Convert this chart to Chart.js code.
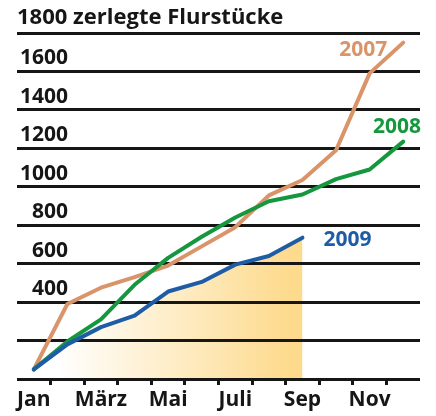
<!DOCTYPE html>
<html>
<head>
<meta charset="utf-8">
<script src="https://cdn.jsdelivr.net/npm/chart.js@4"></script>
<style>
  html, body { margin: 0; padding: 0; background: #fff; }
  #wrap { width: 436px; height: 416px; }
</style>
</head>
<body>
<div id="wrap"><canvas id="chart"></canvas></div>
<script>
// data
const months = ["Jan", "Feb", "März", "Apr", "Mai", "Jun", "Juli", "Aug", "Sep", "Okt", "Nov", "Dez"];
const values2007 = [50, 390, 475, 530, 590, 690, 790, 955, 1035, 1190, 1590, 1750];
const values2008 = [50, 195, 310, 490, 630, 740, 840, 925, 960, 1040, 1090, 1235];
const values2009 = [50, 180, 270, 330, 455, 505, 595, 640, 735];
const yTicks = [400, 600, 800, 1000, 1200, 1400, 1600];
const yTitle = "1800 zerlegte Flurstücke";

const FONT = "'Open Sans', sans-serif";
const ink = "#161616";

// y labels sit above their grid line, right aligned
const yLabelPlugin = {
    id: "yLabels",
    afterDraw(chart) {
        const ctx = chart.ctx;
        const y = chart.scales.y;
        const left = chart.chartArea.left;
        ctx.save();
        ctx.font = "bold 21px " + FONT;
        ctx.fillStyle = ink;
        ctx.textBaseline = "middle";
        ctx.textAlign = "right";
        yTicks.forEach(function (v) {
            ctx.fillText(String(v), left + 51, y.getPixelForValue(v) - 13);
        });
        ctx.font = "bold 22px " + FONT;
        ctx.textAlign = "left";
        ctx.fillText(yTitle, left, y.getPixelForValue(1800) - 15);
        ctx.restore();
    }
};

// series names next to the line ends
const seriesLabelPlugin = {
    id: "seriesLabels",
    afterDatasetsDraw(chart) {
        const ctx = chart.ctx;
        ctx.save();
        ctx.font = "bold 21px " + FONT;
        ctx.textBaseline = "middle";
        chart.data.datasets.forEach(function (ds, i) {
            const pts = chart.getDatasetMeta(i).data;
            const p = pts[pts.length - 1];
            ctx.fillStyle = ds.borderColor;
            if (ds.label === "2007") {
                ctx.textAlign = "right";
                ctx.fillText(ds.label, p.x - 16, p.y + 7);
            } else if (ds.label === "2008") {
                ctx.textAlign = "right";
                ctx.fillText(ds.label, chart.chartArea.right + 1, p.y - 15);
            } else {
                ctx.textAlign = "left";
                ctx.fillText(ds.label, p.x + 21, p.y + 2);
            }
        });
        ctx.restore();
    }
};

function fillGradient(context) {
    const chart = context.chart;
    if (!chart.chartArea) return "rgba(0,0,0,0)";
    const x = chart.scales.x;
    const g = chart.ctx.createLinearGradient(x.getPixelForValue(0.7), 0, x.getPixelForValue(7.7), 0);
    g.addColorStop(0, "#ffffff");
    g.addColorStop(1, "#fdda8c");
    return g;
}

const ctx = document.getElementById("chart").getContext("2d");
new Chart(ctx, {
    type: "line",
    data: {
        labels: months,
        datasets: [
            {
                label: "2009",
                data: values2009,
                borderColor: "#1f5ca6",
                backgroundColor: fillGradient,
                fill: "origin",
                borderWidth: 4,
                pointRadius: 0,
                order: 1
            },
            {
                label: "2008",
                data: values2008,
                borderColor: "#15973d",
                borderWidth: 4,
                pointRadius: 0,
                fill: false,
                order: 2
            },
            {
                label: "2007",
                data: values2007,
                borderColor: "#d9946a",
                borderWidth: 4,
                pointRadius: 0,
                fill: false,
                order: 3
            }
        ]
    },
    options: {
        responsive: true,
        maintainAspectRatio: false,
        animation: false,
        layout: { padding: { left: 17, right: 16, top: 33, bottom: 0 } },
        elements: { line: { borderJoinStyle: "round", borderCapStyle: "round", tension: 0 } },
        plugins: {
            legend: { display: false },
            tooltip: { enabled: false },
            filler: { drawTime: "beforeDraw" }
        },
        scales: {
            x: {
                offset: true,
                border: { display: false },
                grid: {
                    offset: true,
                    drawOnChartArea: false,
                    tickLength: 6,
                    lineWidth: 3,
                    color: function (c) {
                        return (c.type !== "tick" || c.index === 0) ? "rgba(0,0,0,0)" : ink;
                    }
                },
                ticks: {
                    autoSkip: false,
                    maxRotation: 0,
                    padding: 5,
                    color: ink,
                    font: { family: FONT, size: 21, weight: "bold", lineHeight: 1 },
                    callback: function (v, i) { return i % 2 === 0 ? months[i] : ""; }
                }
            },
            y: {
                min: 0,
                max: 1800,
                border: { display: false },
                grid: { drawTicks: false, lineWidth: 3, color: ink },
                ticks: { display: false, stepSize: 200 }
            }
        }
    },
    plugins: [yLabelPlugin, seriesLabelPlugin]
});
</script>
</body>
</html>
